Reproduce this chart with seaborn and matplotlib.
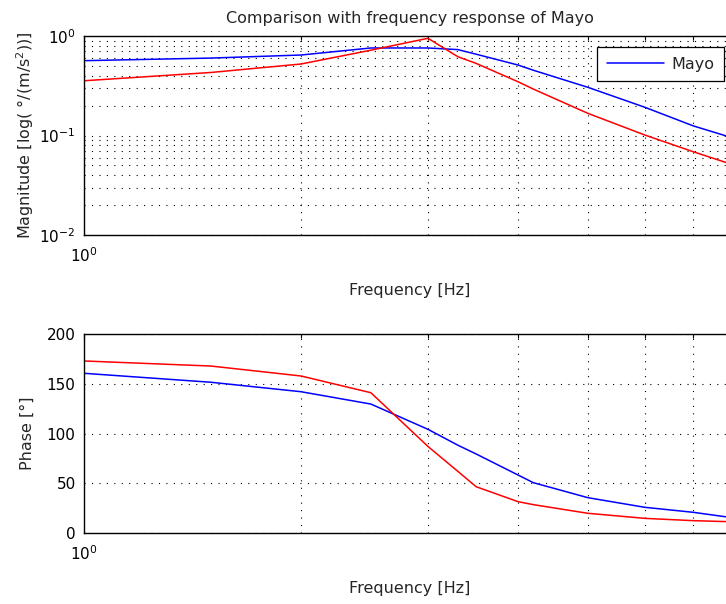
import numpy as np
import pandas as pd
import matplotlib
matplotlib.use("Agg")
import matplotlib.pyplot as plt
import matplotlib.ticker as mticker
import seaborn as sns

# ---- data ----
freq = [1, 1.5, 2, 2.5, 3, 3.3, 3.5, 4, 4.2, 5, 6, 7, 8]
mag_mayo = [0.565, 0.60, 0.644, 0.758, 0.758, 0.73, 0.656, 0.511, 0.453, 0.305, 0.192, 0.125, 0.093]
mag_other = [0.355, 0.43, 0.523, 0.72, 0.948, 0.62, 0.53, 0.347, 0.293, 0.167, 0.101, 0.0687, 0.050]
phase_mayo = [160.5, 151.5, 142, 129.6, 104.2, 88.3, 79.4, 58.3, 50.6, 35.5, 25.8, 20.8, 15.0]
phase_other = [172.9, 167.8, 157.8, 141, 87, 62, 46.5, 31.5, 28.5, 19.8, 14.7, 12.4, 11.2]

title_text = "Comparison with frequency response of Mayo"
xlabel_text = "Frequency [Hz]"
ylabel_mag = "Magnitude [log( °/(m/s$^2$))]"
ylabel_phase = "Phase [°]"
legend_label = "Mayo"

df = pd.DataFrame({"freq": freq, "mag_mayo": mag_mayo, "mag_other": mag_other,
                   "phase_mayo": phase_mayo, "phase_other": phase_other})

sns.set_style("white")
plt.rcParams["font.family"] = ["DejaVu Sans"]
plt.rcParams["mathtext.fontset"] = "dejavusans"
plt.rcParams["mathtext.default"] = "regular"

FS_TICK = 11
FS_LAB = 11.5

fig = plt.figure(figsize=(7.26, 6.04), dpi=100)
left, width = 84 / 726, 651 / 726
ax1 = fig.add_axes([left, (604 - 235) / 604, width, 199 / 604])
ax2 = fig.add_axes([left, (604 - 533) / 604, width, 199 / 604])

grid_kw = dict(color="black", linestyle=(0, (1, 5.7)), linewidth=0.8)

def style_axes(ax):
    ax.set_xscale("log")
    ax.set_xlim(1, 8)
    ax.xaxis.set_major_locator(mticker.FixedLocator([1]))
    ax.xaxis.set_major_formatter(mticker.FixedFormatter(["$10^{0}$"]))
    ax.xaxis.set_minor_locator(mticker.FixedLocator([2, 3, 4, 5, 6, 7]))
    ax.xaxis.set_minor_formatter(mticker.NullFormatter())
    for s in ax.spines.values():
        s.set_visible(True)
        s.set_color("black")
        s.set_linewidth(1.0)
    ax.tick_params(which="both", direction="in", top=True, right=True,
                   labelsize=FS_TICK, colors="black", length=4, width=0.8)
    ax.tick_params(which="minor", length=3)
    ax.tick_params(axis="x", which="major", pad=8)
    ax.tick_params(axis="y", which="major", pad=6)
    ax.set_facecolor("white")

# ---- magnitude ----
sns.lineplot(data=df, x="freq", y="mag_mayo", ax=ax1, color="blue", linewidth=1.1,
             label=legend_label, estimator=None, sort=False)
sns.lineplot(data=df, x="freq", y="mag_other", ax=ax1, color="red", linewidth=1.1,
             estimator=None, sort=False)
style_axes(ax1)
ax1.set_yscale("log")
ax1.set_ylim(0.01, 1)
ax1.yaxis.set_major_locator(mticker.LogLocator(base=10, numticks=10))
ax1.yaxis.set_minor_locator(mticker.LogLocator(base=10, subs=np.arange(2, 10), numticks=10))
ax1.yaxis.set_minor_formatter(mticker.NullFormatter())
ax1.grid(True, which="both", **grid_kw)
ax1.set_title(title_text, fontsize=FS_LAB, pad=9)
ax1.set_xlabel(xlabel_text, fontsize=FS_LAB, labelpad=13)
ax1.set_ylabel(ylabel_mag, fontsize=FS_LAB)
ax1.yaxis.set_label_coords(-0.073, 0.5)
leg = ax1.legend(loc="upper right", fontsize=FS_LAB, frameon=True, fancybox=False,
                 borderaxespad=0.7, handlelength=3.6, borderpad=0.6,
                 handletextpad=0.45, framealpha=1)
leg.get_frame().set_edgecolor("black")
leg.get_frame().set_linewidth(0.9)

# ---- phase ----
sns.lineplot(data=df, x="freq", y="phase_mayo", ax=ax2, color="blue", linewidth=1.1,
             estimator=None, sort=False, legend=False)
sns.lineplot(data=df, x="freq", y="phase_other", ax=ax2, color="red", linewidth=1.1,
             estimator=None, sort=False, legend=False)
style_axes(ax2)
ax2.set_ylim(0, 200)
ax2.yaxis.set_major_locator(mticker.FixedLocator([0, 50, 100, 150, 200]))
ax2.grid(True, which="major", axis="y", **grid_kw)
ax2.grid(True, which="minor", axis="x", **grid_kw)
ax2.set_xlabel(xlabel_text, fontsize=FS_LAB, labelpad=13)
ax2.set_ylabel(ylabel_phase, fontsize=FS_LAB)
ax2.yaxis.set_label_coords(-0.076, 0.5)

fig.savefig("out.png", dpi=100, facecolor="white")
